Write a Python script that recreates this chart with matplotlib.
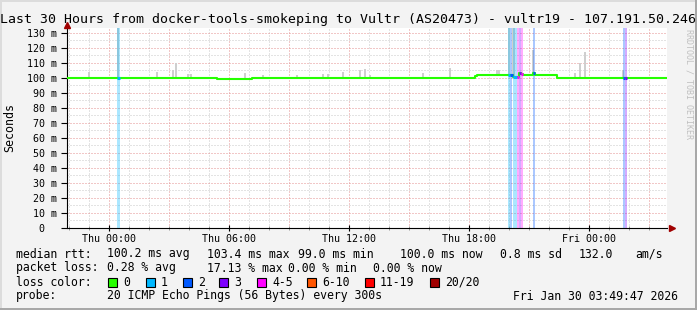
import matplotlib
matplotlib.use('Agg')
import matplotlib.pyplot as plt
from matplotlib.patches import Rectangle

W, H = 697, 310
MONO = 'DejaVu Sans Mono'

# time axis in hours, 0 = Thu 00:00
T_START = -2.1
T_END = 27.9

# median rtt (ms) as steps: segment starts at med_t, loss colour index per segment
med_t = [-2.1, 0.40, 0.53, 5.40, 7.15, 18.30, 18.40, 19.97, 20.05, 20.18,
         20.40, 20.50, 20.62, 20.68, 21.18, 21.30, 22.40, 25.70, 25.80, 25.90]
med_ms = [100.2, 100.2, 100.2, 99.5, 100.2, 101.0, 102.2, 102.2, 102.0, 100.5,
          100.9, 103.1, 102.6, 102.2, 103.5, 102.2, 100.0, 100.0, 100.0, 100.0]
med_loss = [0, 1, 0, 0, 0, 0, 0, 1, 2, 1, 4, 3, 4, 0, 2, 0, 0, 2, 3, 0]

# smoke spikes (ms)
smoke_t = [-1.0, 0.45, 2.4, 3.2, 3.35, 3.95, 4.1, 6.8, 7.7, 9.4, 10.7, 10.95,
           11.7, 12.55, 12.8, 13.05, 15.7, 17.05, 19.4, 19.5, 20.0, 20.22,
           21.2, 23.3, 23.55, 23.8, 25.7]
smoke_lo = [100.2, 100.2, 100.2, 100.2, 100.2, 100.2, 100.2, 100.2, 100.2, 100.2,
            100.2, 100.2, 100.2, 100.2, 100.2, 100.2, 100.2, 100.2, 102.2, 102.2,
            101.0, 100.5, 103.0, 100.0, 100.0, 100.0, 100.0]
smoke_hi = [104.2, 133.3, 104.0, 105.0, 110.0, 102.7, 102.7, 103.5, 102.0, 102.0,
            102.7, 102.7, 104.0, 105.3, 105.7, 102.0, 103.3, 106.5, 105.0, 105.5,
            133.3, 133.3, 118.7, 103.0, 110.0, 117.0, 105.0]

# packet loss bands
band_t0 = [0.40, 19.97, 20.05, 20.18, 20.40, 20.50, 20.62, 21.18, 25.70, 25.80]
band_t1 = [0.53, 20.05, 20.13, 20.40, 20.50, 20.62, 20.68, 21.30, 25.80, 25.90]
band_loss = [1, 1, 2, 1, 4, 3, 4, 2, 2, 3]

loss_labels = ['0', '1', '2', '3', '4-5', '6-10', '11-19', '20/20']
loss_colors = ['#26ff00', '#00b8ff', '#0059ff', '#7e00ff', '#ff00ff',
               '#ff5500', '#ff0000', '#a10000']
loss_box_x = [108, 146, 183, 219, 257, 307, 365, 430]

y_ticks = [0, 10, 20, 30, 40, 50, 60, 70, 80, 90, 100, 110, 120, 130]
y_labels = ['0  ', '10 m', '20 m', '30 m', '40 m', '50 m', '60 m', '70 m',
            '80 m', '90 m', '100 m', '110 m', '120 m', '130 m']
x_ticks = [0, 6, 12, 18, 24]
x_labels = ['Thu 00:00', 'Thu 06:00', 'Thu 12:00', 'Thu 18:00', 'Fri 00:00']

title = 'Last 30 Hours from docker-tools-smokeping to Vultr (AS20473) - vultr19 - 107.191.50.246'


def fx(x):
    return x / W


def fy(y):
    return 1 - y / H


fig = plt.figure(figsize=(W / 100, H / 100), dpi=100)
fig.patch.set_facecolor('#f3f3f3')
ax = fig.add_axes([fx(67), fy(228), 600 / W, 200 / H])
ax.set_facecolor('white')
ax.set_xlim(T_START, T_END)
ax.set_ylim(0, 133.33)

# grid: red dotted major, grey dotted minor
dots = (0, (1, 2))
for h in range(-2, 28):
    col = '#e49090' if h % 3 == 0 else '#c8c8c8'
    ax.axvline(h, color=col, lw=0.72, ls=dots, zorder=0)
for v in range(5, 134, 5):
    col = '#e49090' if v % 10 == 0 else '#c8c8c8'
    ax.axhline(v, color=col, lw=0.72, ls=dots, zorder=0)

# smoke
ax.bar(smoke_t, [hi - lo for lo, hi in zip(smoke_lo, smoke_hi)], bottom=smoke_lo,
       width=0.12, color='#cfcfcf', lw=0, zorder=1)

# loss bands
for t0, t1, li in zip(band_t0, band_t1, band_loss):
    ax.axvspan(t0, t1, color=loss_colors[li], alpha=0.33, lw=0, zorder=2)

# median line
ax.step(med_t + [T_END], med_ms + [med_ms[-1]], where='post',
        color=loss_colors[0], lw=1.5, zorder=3)
for i in range(len(med_t)):
    if med_loss[i] > 0:
        t1 = med_t[i + 1] if i + 1 < len(med_t) else T_END
        ax.hlines(med_ms[i], med_t[i], t1, color=loss_colors[med_loss[i]],
                  lw=2.2, zorder=4)

for s in ['top', 'right']:
    ax.spines[s].set_visible(False)
for s in ['left', 'bottom']:
    ax.spines[s].set_color('black')
    ax.spines[s].set_linewidth(0.8)

ax.set_yticks(y_ticks)
ax.set_yticklabels(y_labels, family=MONO, fontsize=7.2)
ax.set_xticks(x_ticks)
ax.set_xticklabels(x_labels, family=MONO, fontsize=7.2)
ax.set_xticks(range(-2, 28), minor=True)
ax.tick_params(axis='y', direction='out', length=4, width=0.8, pad=3)
ax.tick_params(axis='x', which='major', direction='inout', length=5, width=0.8, pad=2)
ax.tick_params(axis='x', which='minor', direction='inout', length=3, width=0.6, color='#888888')

# axis arrows
ax.plot([0], [1.015], marker='^', ms=5, color='#a00000', transform=ax.transAxes,
        clip_on=False, zorder=6)
ax.plot([1.008], [0], marker='>', ms=5, color='#a00000', transform=ax.transAxes,
        clip_on=False, zorder=6)

fig.text(fx(348), fy(19), title, family=MONO, fontsize=9.5, ha='center', va='center')
fig.text(fx(10), fy(128), 'Seconds', family=MONO, fontsize=8.4, rotation=90,
         ha='center', va='center')
# watermark, kept just below the title so the two do not collide
fig.text(fx(689), fy(84), 'RRDTOOL / TOBI OETIKER', family=MONO, fontsize=6.0,
         rotation=270, ha='center', va='center', color='#c0c0c0')

legend_rows = [
    (254, [(16, 'median rtt:'), (107, '100.2 ms avg'), (207, '103.4 ms max'),
           (298, '99.0 ms min'), (400, '100.0 ms now'), (500, '0.8 ms sd'),
           (579, '132.0'), (635, 'am/s')]),
    (268, [(16, 'packet loss:'), (107, '0.28 % avg'), (207, '17.13 % max'),
           (288, '0.00 % min'), (373, '0.00 % now')]),
    (282, [(16, 'loss color:')]),
    (296, [(16, 'probe:'), (107, '20 ICMP Echo Pings (56 Bytes) every 300s'),
           (513, 'Fri Jan 30 03:49:47 2026')]),
]
for y, parts in legend_rows:
    for x, s in parts:
        fig.text(fx(x), fy(y), s, family=MONO, fontsize=8.3, ha='left', va='center')

for bx, lab, col in zip(loss_box_x, loss_labels, loss_colors):
    fig.patches.append(Rectangle((fx(bx), fy(286.5)), 9 / W, 9 / H, transform=fig.transFigure,
                                 facecolor=col, edgecolor='black', lw=0.8))
    fig.text(fx(bx + 15), fy(282), lab, family=MONO, fontsize=8.3, ha='left', va='center')

# image border
fig.patches.append(Rectangle((0, 1 - 2 / H), 1, 2 / H, transform=fig.transFigure,
                             facecolor='#dcdcdc', lw=0))
fig.patches.append(Rectangle((0, 0), 2 / W, 1, transform=fig.transFigure,
                             facecolor='#dcdcdc', lw=0))
fig.patches.append(Rectangle((0, 0), 1, 2 / H, transform=fig.transFigure,
                             facecolor='#a8a8a8', lw=0))
fig.patches.append(Rectangle((1 - 2 / W, 0), 2 / W, 1, transform=fig.transFigure,
                             facecolor='#a8a8a8', lw=0))

fig.savefig('out.png', dpi=100, facecolor=fig.get_facecolor())
